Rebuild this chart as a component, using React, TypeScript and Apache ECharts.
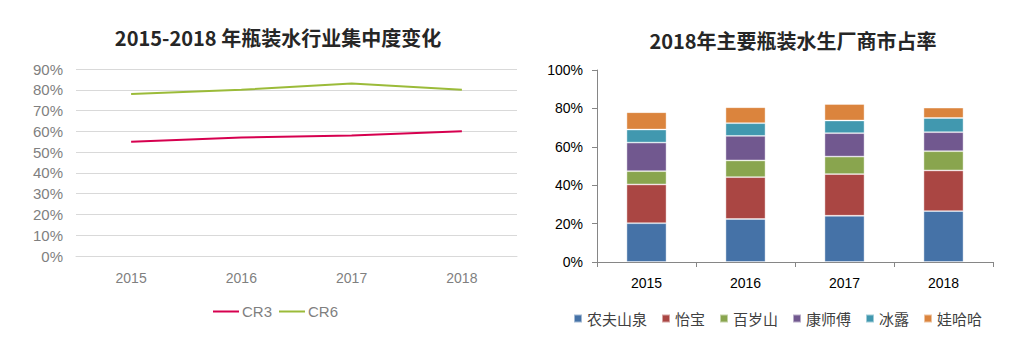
import React, { useEffect, useRef } from "react";
import * as echarts from "echarts";

const years = ["2015", "2016", "2017", "2018"];
const cr3 = [55, 57, 58, 60];
const cr6 = [78, 80, 83, 80];

const brandNames = ["农夫山泉", "怡宝", "百岁山", "康师傅", "冰露", "娃哈哈"];
const nongfu = [20.2, 22.4, 24.1, 26.5];
const yibao = [20.2, 21.8, 21.7, 21.2];
const baisuishan = [6.9, 8.7, 9.1, 10.0];
const kangshifu = [14.9, 12.8, 12.2, 9.9];
const binglu = [6.8, 6.6, 6.6, 7.4];
const wahaha = [9.0, 8.3, 8.6, 5.4];
const brandValues = [nongfu, yibao, baisuishan, kangshifu, binglu, wahaha];
const brandColors = ["#4572A7", "#AA4643", "#89A54E", "#71588F", "#4198AF", "#DB843D"];

const leftTicks = [0, 10, 20, 30, 40, 50, 60, 70, 80, 90];
const rightTicks = [0, 20, 40, 60, 80, 100];

export default function App() {
  const ref = useRef<HTMLDivElement>(null);
  useEffect(() => {
    if (!ref.current) return;
    const chart = echarts.init(ref.current, null, { renderer: "svg" });
    const sans = "'Liberation Sans', Arial, sans-serif";
    const cjk = "'Noto Sans CJK SC', 'Noto Sans', sans-serif";
    chart.setOption({
      animation: false,
      backgroundColor: "#fff",
      title: [
        {
          text: "2015-2018 年瓶装水行业集中度变化",
          left: 273,
          top: 22,
          textAlign: "center",
          textStyle: { fontSize: 20, fontWeight: "bold", color: "#262626", fontFamily: cjk },
        },
        {
          text: "2018年主要瓶装水生厂商市占率",
          left: 788,
          top: 25,
          textAlign: "center",
          textStyle: { fontSize: 20, fontWeight: "bold", color: "#262626", fontFamily: cjk },
        },
      ],
      legend: [
        {
          data: [
            { name: "CR3", icon: "rect" },
            { name: "CR6", icon: "rect" },
          ],
          left: 208,
          top: 299,
          itemWidth: 26,
          itemHeight: 2,
          itemGap: 7,
          textStyle: { fontSize: 15, color: "#7f7f7f", fontFamily: sans, padding: [0, 0, 0, -2] },
        },
        {
          data: brandNames.map((n) => ({ name: n, icon: "rect" })),
          left: 568,
          top: 306,
          itemWidth: 8,
          itemHeight: 8,
          itemGap: 14,
          textStyle: { fontSize: 15, color: "#404040", fontFamily: cjk },
        },
      ],
      grid: [
        { left: 76, right: 498, top: 69, bottom: 94, containLabel: false },
        { left: 597, right: 22, top: 70, bottom: 88, containLabel: false },
      ],
      xAxis: [
        {
          type: "category",
          gridIndex: 0,
          data: years,
          boundaryGap: true,
          axisLine: { show: true, lineStyle: { color: "#d9d9d9" } },
          axisTick: { show: false },
          axisLabel: { color: "#7f7f7f", fontSize: 14, fontFamily: sans, margin: 15 },
        },
        {
          type: "category",
          gridIndex: 1,
          data: years,
          boundaryGap: true,
          axisLine: { show: true, lineStyle: { color: "#868686" } },
          axisTick: { show: true, length: 5, lineStyle: { color: "#868686" } },
          axisLabel: { color: "#000", fontSize: 14, fontFamily: sans, margin: 14 },
        },
      ],
      yAxis: [
        {
          type: "value",
          gridIndex: 0,
          min: leftTicks[0],
          max: leftTicks[leftTicks.length - 1],
          interval: 10,
          axisLine: { show: false },
          axisTick: { show: false },
          splitLine: { show: true, lineStyle: { color: "#d9d9d9" } },
          axisLabel: { color: "#7f7f7f", fontSize: 15, fontFamily: sans, margin: 13, formatter: "{value}%" },
        },
        {
          type: "value",
          gridIndex: 1,
          min: rightTicks[0],
          max: rightTicks[rightTicks.length - 1],
          interval: 20,
          axisLine: { show: true, lineStyle: { color: "#868686" } },
          axisTick: { show: true, length: 5, lineStyle: { color: "#868686" } },
          splitLine: { show: false },
          axisLabel: { color: "#000", fontSize: 14, fontFamily: sans, margin: 14, formatter: "{value}%" },
        },
      ],
      series: [
        {
          name: "CR3",
          type: "line",
          xAxisIndex: 0,
          yAxisIndex: 0,
          data: cr3,
          symbol: "none",
          lineStyle: { color: "#D6004F", width: 2 },
          itemStyle: { color: "#D6004F" },
        },
        {
          name: "CR6",
          type: "line",
          xAxisIndex: 0,
          yAxisIndex: 0,
          data: cr6,
          symbol: "none",
          lineStyle: { color: "#9BBB39", width: 2 },
          itemStyle: { color: "#9BBB39" },
        },
        ...brandNames.map((n, i) => ({
          name: n,
          type: "bar",
          stack: "share",
          xAxisIndex: 1,
          yAxisIndex: 1,
          barWidth: 40,
          data: brandValues[i],
          itemStyle: { color: brandColors[i], borderColor: "rgba(255,255,255,0.5)", borderWidth: 0.8 },
        })),
      ],
    });
    return () => chart.dispose();
  }, []);
  return (
    <div
      ref={ref}
      style={{ position: "absolute", left: 0, top: 0, width: 1015, height: 350 }}
    />
  );
}
